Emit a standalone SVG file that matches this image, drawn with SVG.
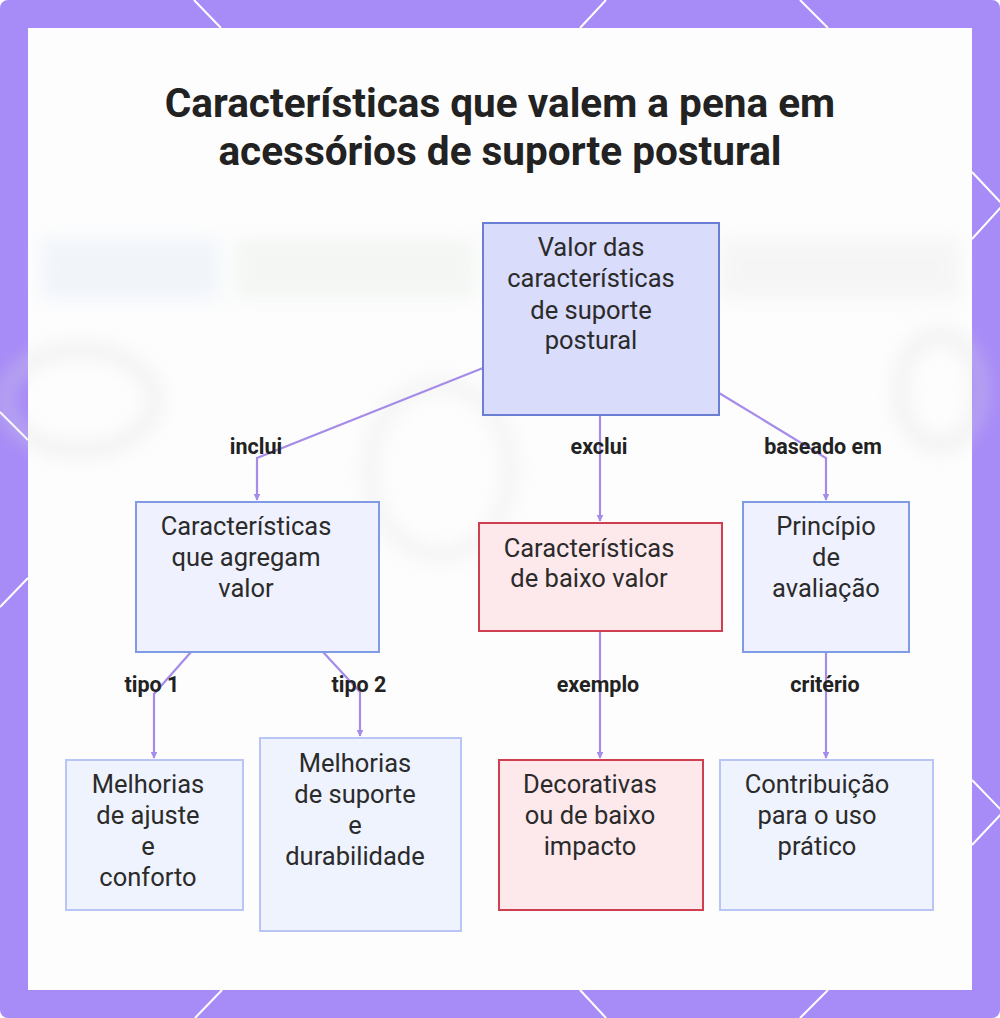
<svg xmlns="http://www.w3.org/2000/svg" width="1000" height="1018" viewBox="0 0 1000 1018">
<defs>
<style>
.title{font-family:Roboto,"Liberation Sans",sans-serif;font-weight:700;font-size:40.5px;fill:#222;text-anchor:middle}
.nt{font-family:Roboto,"Liberation Sans",sans-serif;font-size:25.5px;fill:#2b2b2b;text-anchor:middle}
.lbl{font-family:Roboto,"Liberation Sans",sans-serif;font-weight:700;font-size:21.5px;fill:#222;text-anchor:middle}
.root{fill:#d9dcfb;stroke:#6a7fd3;stroke-width:2}
.mid{fill:#eff2fe;stroke:#7f9be3;stroke-width:2}
.red{fill:#fde8ec;stroke:#cf3f4f;stroke-width:2}
.leaf{fill:#eff3fe;stroke:#b9c6f5;stroke-width:2}
.conn{fill:none;stroke:#a58ce9;stroke-width:2.2}
.hex{stroke:#ffffff;stroke-width:2;fill:none}
</style>
<marker id="arr" viewBox="0 0 10 10" refX="9" refY="5" markerWidth="3" markerHeight="3" orient="auto">
<path d="M0,0 L10,5 L0,10 z" fill="#a58ce9"/>
</marker>
<filter id="blur" x="-20%" y="-20%" width="140%" height="140%"><feGaussianBlur stdDeviation="9"/></filter>
</defs>

<!-- frame -->
<rect x="0" y="0" width="1000" height="1018" rx="8" fill="#a78bf7"/>
<g class="hex">
<line x1="194" y1="0" x2="221" y2="28"/>
<line x1="606" y1="0" x2="580" y2="28"/>
<line x1="800" y1="0" x2="828" y2="28"/>
<line x1="222" y1="990" x2="195" y2="1018"/>
<line x1="580" y1="990" x2="606" y2="1018"/>
<line x1="828" y1="990" x2="800" y2="1018"/>
<line x1="0" y1="412" x2="28" y2="440"/>
<line x1="28" y1="578" x2="0" y2="607"/>
<polyline points="972,172 1003,205 972,239"/>
<polyline points="972,780 1003,812 972,845"/>
</g>
<rect x="28" y="28" width="944" height="962" fill="#fdfdfd"/>

<!-- faint blurred background -->
<g filter="url(#blur)" opacity="0.35">
<rect x="40" y="238" width="180" height="62" fill="#dbe7f6"/>
<rect x="235" y="238" width="240" height="62" fill="#e2ebe3"/>
<rect x="720" y="238" width="240" height="62" fill="#e8e8ea"/>
<ellipse cx="80" cy="400" rx="75" ry="50" fill="none" stroke="#dcdde0" stroke-width="16"/>
<ellipse cx="440" cy="470" rx="70" ry="85" fill="none" stroke="#e2e3e6" stroke-width="16"/>
<ellipse cx="940" cy="390" rx="40" ry="55" fill="none" stroke="#dcdde0" stroke-width="16"/>
</g>

<!-- title -->
<text class="title" x="500" y="117">Características que valem a pena em</text>
<text class="title" x="500" y="165">acessórios de suporte postural</text>

<!-- connectors -->
<g id="connectors">
<path class="conn" d="M483,368 L257,458 L257,500" marker-end="url(#arr)"/>
<path class="conn" d="M600,415 L600,521" marker-end="url(#arr)"/>
<path class="conn" d="M719,393 L826,458 L826,500" marker-end="url(#arr)"/>
<path class="conn" d="M191,652 L154,694 L154,758" marker-end="url(#arr)"/>
<path class="conn" d="M323,652 L360,692 L360,736" marker-end="url(#arr)"/>
<path class="conn" d="M600,631 L600,758" marker-end="url(#arr)"/>
<path class="conn" d="M826,652 L826,758" marker-end="url(#arr)"/>
<text class="lbl" x="256" y="454">inclui</text>
<text class="lbl" x="599" y="454">exclui</text>
<text class="lbl" x="823" y="454">baseado em</text>
<text class="lbl" x="152" y="692">tipo 1</text>
<text class="lbl" x="359" y="692">tipo 2</text>
<text class="lbl" x="598" y="692">exemplo</text>
<text class="lbl" x="825" y="692">critério</text>
</g>

<!-- nodes -->
<g id="n-root">
<rect class="root" x="483" y="223" width="236" height="192"/>
<text class="nt" x="591" y="256">Valor das</text>
<text class="nt" x="591" y="287">características</text>
<text class="nt" x="591" y="319">de suporte</text>
<text class="nt" x="591" y="349">postural</text>
</g>
<g id="n-agregam">
<rect class="mid" x="136" y="502" width="243" height="150"/>
<text class="nt" x="246" y="535">Características</text>
<text class="nt" x="246" y="566">que agregam</text>
<text class="nt" x="246" y="597">valor</text>
</g>
<g id="n-baixo">
<rect class="red" x="479" y="523" width="243" height="108"/>
<text class="nt" x="589" y="557">Características</text>
<text class="nt" x="589" y="587">de baixo valor</text>
</g>
<g id="n-principio">
<rect class="mid" x="743" y="502" width="166" height="150"/>
<text class="nt" x="826" y="535">Princípio</text>
<text class="nt" x="826" y="566">de</text>
<text class="nt" x="826" y="597">avaliação</text>
</g>
<g id="n-ajuste">
<rect class="leaf" x="66" y="760" width="177" height="150"/>
<text class="nt" x="148" y="793">Melhorias</text>
<text class="nt" x="148" y="824">de ajuste</text>
<text class="nt" x="148" y="855">e</text>
<text class="nt" x="148" y="886">conforto</text>
</g>
<g id="n-suporte">
<rect class="leaf" x="260" y="738" width="201" height="193"/>
<text class="nt" x="355" y="772">Melhorias</text>
<text class="nt" x="355" y="803">de suporte</text>
<text class="nt" x="355" y="834">e</text>
<text class="nt" x="355" y="865">durabilidade</text>
</g>
<g id="n-decorativas">
<rect class="red" x="499" y="760" width="204" height="150"/>
<text class="nt" x="590" y="793">Decorativas</text>
<text class="nt" x="590" y="824">ou de baixo</text>
<text class="nt" x="590" y="855">impacto</text>
</g>
<g id="n-contribuicao">
<rect class="leaf" x="720" y="760" width="213" height="150"/>
<text class="nt" x="817" y="793">Contribuição</text>
<text class="nt" x="817" y="824">para o uso</text>
<text class="nt" x="817" y="855">prático</text>
</g>
</svg>
